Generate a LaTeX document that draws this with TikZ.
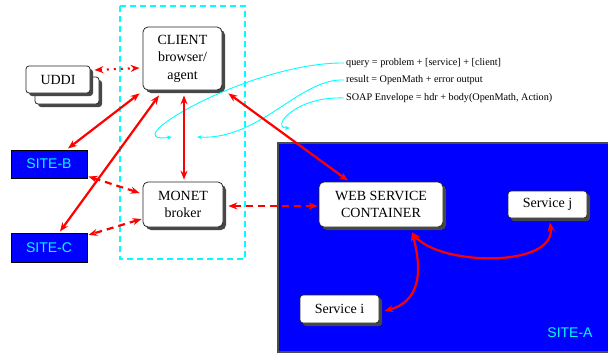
\documentclass[tikz,border=0pt]{standalone}
\usepackage{fontspec}
\setmainfont{Liberation Serif}
\newfontfamily\sitefont{Liberation Sans}
\usetikzlibrary{arrows.meta,shadows,calc}
\definecolor{cy}{RGB}{0,255,255}
\definecolor{bl}{RGB}{0,0,255}
\definecolor{rd}{RGB}{255,0,0}
\begin{document}
\begin{tikzpicture}[x=1pt,y=-1pt,
  box/.style={draw=black!85, line width=0.8pt, fill=white, rounded corners=5pt,
    drop shadow={shadow xshift=3pt,shadow yshift=-3pt,fill=black!72,opacity=1},
    align=center, inner sep=0pt, font=\fontsize{14}{17.5}\selectfont},
  smallbox/.style={box, rounded corners=3pt},
  site/.style={draw=black, line width=1pt, fill=bl, text=cy,
    font=\sitefont\fontsize{14}{16}\selectfont, inner sep=0pt},
  redarr/.style={draw=rd, line width=2.2pt,
    {Stealth[length=9pt,width=7pt,inset=3pt]}-{Stealth[length=9pt,width=7pt,inset=3pt]}},
  reddash/.style={redarr, dash pattern=on 7pt off 5pt},
  reddot/.style={redarr, dash pattern=on 2pt off 5pt},
  note/.style={font=\fontsize{10.2}{12}\selectfont, anchor=west, inner sep=0pt},
  cyanarr/.style={draw=cy, line width=0.9pt, -{Stealth[length=5pt,width=4pt]}},
  cyanbox/.style={draw=cy, line width=1.2pt, dash pattern=on 6pt off 4pt}
]
\useasboundingbox (0,0) rectangle (608,354);
\clip (0,0) rectangle (608,354);

% SITE-A region
\draw[fill=bl, draw=black!70, line width=1.2pt] (278,143) rectangle (620,352);
\node[text=cy, font=\sitefont\fontsize{14}{16}\selectfont] (sitea) at (570,333) {SITE-A};

% cyan dashed box
\draw[cyanbox] (120,6) rectangle (245,259);

% nodes
\node[box, minimum width=79pt, minimum height=63pt] (client) at (182.5,58.5) {CLIENT\\browser/\\agent};
\node[smallbox, minimum width=64pt, minimum height=27pt] (uddib) at (67,90.5) {};
\node[smallbox, minimum width=64pt, minimum height=27pt] (uddi) at (58,79.5) {UDDI};
\node[site, minimum width=76pt, minimum height=28pt] (siteb) at (49,164) {SITE-B};
\node[site, minimum width=76pt, minimum height=29pt] (sitec) at (49,247.5) {SITE-C};
\node[box, minimum width=80pt, minimum height=45pt] (monet) at (183,204.5) {MONET\\broker};
\node[box, minimum width=124pt, minimum height=45pt] (web) at (381,204.5) {WEB SERVICE\\CONTAINER};
\node[smallbox, minimum width=79pt, minimum height=27pt] (servicej) at (547.5,204.5) {Service j};
\node[smallbox, minimum width=79pt, minimum height=28pt] (servicei) at (339.5,309) {Service i};

% notes
\node[note] (q) at (346,63) {query = problem + [service] + [client]};
\node[note] (r) at (346,80) {result = OpenMath + error output};
\node[note] (s) at (346,98) {SOAP Envelope = hdr + body(OpenMath, Action)};
\coordinate (qe) at (172,137);
\coordinate (re) at (197,137);
\coordinate (se) at (290,128);
\draw[cyanarr] ([xshift=-2pt]q.west) .. controls (250,62) and (110,145) .. (qe);
\draw[cyanarr] ([xshift=-2pt]r.west) .. controls (300,78) and (260,140) .. (re);
\draw[cyanarr] ([xshift=-2pt]s.west) .. controls (295,96) and (270,128) .. (se);

% red connectors
\draw[reddot] ([xshift=4pt,yshift=9.5pt]uddi.east) -- ([xshift=-3pt,yshift=-9.5pt]client.west);
\draw[redarr] ([xshift=-3pt,yshift=-3pt]client.south west) -- ([xshift=19pt,yshift=1pt]siteb.north);
\draw[redarr] ([xshift=-23.5pt,yshift=-5pt]client.south) -- ([xshift=11pt,yshift=1pt]sitec.north);
\draw[redarr] ([xshift=1.5pt,yshift=-5pt]client.south) -- ([xshift=1pt,yshift=2pt]monet.north);
\draw[redarr] ([xshift=6pt,yshift=-3pt]client.south east) -- ([xshift=-33pt,yshift=1pt]web.north);
\draw[reddash] ([xshift=-3pt,yshift=11.5pt]monet.west) -- ([xshift=1pt,yshift=2pt]siteb.south east);
\draw[reddash] ([xshift=-1pt,yshift=-14.5pt]monet.west) -- ([xshift=1pt,yshift=12.5pt]sitec.east);
\draw[reddash] ([xshift=5pt,yshift=-1.5pt]monet.east) -- ([xshift=-1pt,yshift=-1.5pt]web.west);

\coordinate (wsb) at ([xshift=31pt,yshift=-5pt]web.south);
\draw[redarr] (wsb) .. controls (440,266) and (556,268) .. ([xshift=2.5pt,yshift=-4pt]servicej.south);
\draw[redarr] (wsb) .. controls (420,262) and (425,300) .. ([xshift=5pt,yshift=-2pt]servicei.east);
\end{tikzpicture}
\end{document}
